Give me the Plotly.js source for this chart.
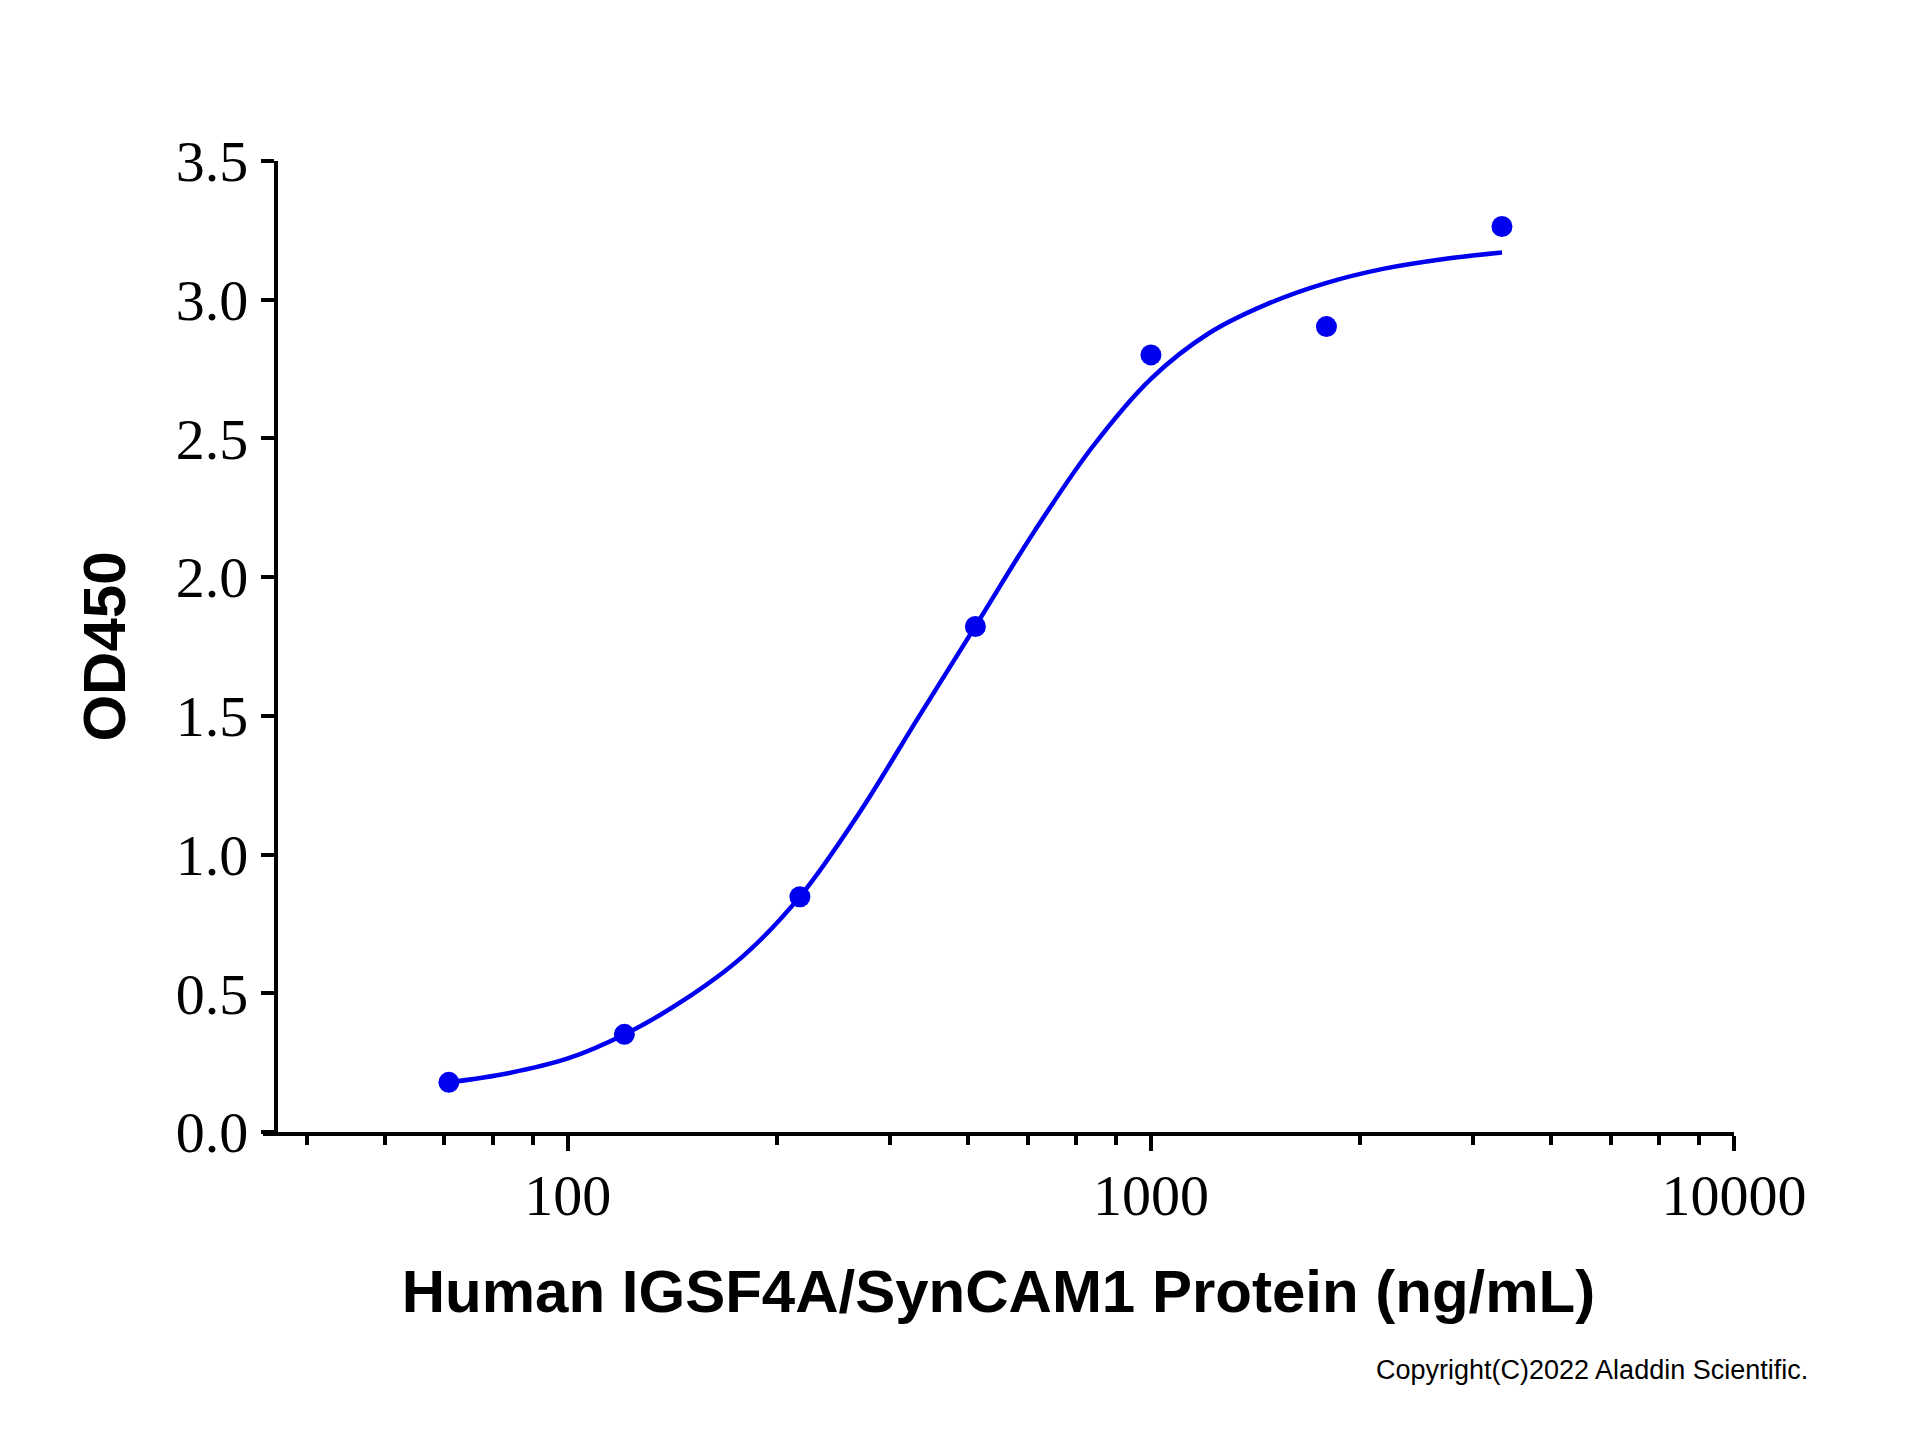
<!DOCTYPE html>
<html>
<head>
<meta charset="utf-8">
<script src="https://cdn.plot.ly/plotly-3.0.1.min.js"></script>
<style>
  html, body { margin: 0; padding: 0; background: #fff; }
  #chart { width: 1920px; height: 1440px; }
</style>
</head>
<body>
<div id="chart"></div>
<script>
// measured points (ng/mL vs OD450)
var concentracion = [62.5, 125, 250, 500, 1000, 2000, 4000];
var od450 = [0.179, 0.352, 0.848, 1.822, 2.801, 2.903, 3.264];

// fitted curve
var curvaX = [62.5, 79, 100, 126, 158, 200, 251, 316, 398, 501, 631, 794, 1000, 1259, 1585, 1995, 2512, 3162, 4000];
var curvaY = [0.179, 0.212, 0.265, 0.355, 0.475, 0.635, 0.853, 1.15, 1.49, 1.826, 2.165, 2.47, 2.715, 2.88, 2.985, 3.06, 3.112, 3.146, 3.170];

// axis ticks
var xTicks = [100, 1000, 10000];
var xTickText = ['100', '1000', '10000'];
var xMinorTicks = [35.71, 48.57, 61.43, 74.29, 87.14,
                   228.6, 357.1, 485.7, 614.3, 742.9, 871.4,
                   2286, 3571, 4857, 6143, 7429, 8714];
var yTicks = [0, 0.5, 1, 1.5, 2, 2.5, 3, 3.5];
var yTickText = ['0.0', '0.5', '1.0', '1.5', '2.0', '2.5', '3.0', '3.5'];

var azul = '#0000f0';

var traceCurva = {
    type: 'scatter',
    mode: 'lines',
    x: curvaX,
    y: curvaY,
    line: {color: azul, width: 4.5, shape: 'spline', smoothing: 1},
    hoverinfo: 'skip'
};

var tracePuntos = {
    type: 'scatter',
    mode: 'markers',
    x: concentracion,
    y: od450,
    marker: {color: azul, size: 21}
};

var layout = {
    width: 1920,
    height: 1440,
    paper_bgcolor: '#fff',
    plot_bgcolor: '#fff',
    showlegend: false,
    margin: {l: 263, r: 186, t: 161, b: 308},
    xaxis: {
        type: 'log',
        range: [Math.log10(30), 4],
        showgrid: false,
        zeroline: false,
        showline: true,
        linecolor: '#000',
        linewidth: 4,
        ticks: 'outside',
        ticklen: 15,
        tickwidth: 4,
        tickcolor: '#000',
        tickmode: 'array',
        tickvals: xTicks,
        ticktext: xTickText,
        ticklabelstandoff: -6,
        minor: {
            tickmode: 'array',
            tickvals: xMinorTicks,
            ticks: 'outside',
            ticklen: 9,
            tickwidth: 4,
            tickcolor: '#000',
            showgrid: false
        },
        tickfont: {family: 'Liberation Serif', size: 58, color: '#000'},
        title: {
            text: 'Human IGSF4A/SynCAM1 Protein (ng/mL)',
            font: {family: 'Liberation Sans', size: 60, color: '#000', weight: 'bold'},
            standoff: 44
        },
        automargin: false
    },
    yaxis: {
        range: [0, 3.5],
        anchor: 'free',
        position: 0.0088,
        showgrid: false,
        zeroline: false,
        showline: true,
        linecolor: '#000',
        linewidth: 4,
        ticks: 'outside',
        ticklen: 13,
        tickwidth: 4,
        tickcolor: '#000',
        tickmode: 'array',
        tickvals: yTicks,
        ticktext: yTickText,
        ticklabelstandoff: 1,
        tickfont: {family: 'Liberation Serif', size: 58, color: '#000'},
        title: {
            text: 'OD450',
            font: {family: 'Liberation Sans', size: 60, color: '#000', weight: 'bold'},
            standoff: 30
        },
        automargin: false
    },
    annotations: [{
        xref: 'paper',
        yref: 'paper',
        x: 1.0517,
        y: -0.245,
        xanchor: 'right',
        yanchor: 'middle',
        showarrow: false,
        text: 'Copyright(C)2022 Aladdin Scientific.',
        font: {family: 'Liberation Sans', size: 27, color: '#000'}
    }]
};

var config = {staticPlot: true, displayModeBar: false};

Plotly.newPlot('chart', [traceCurva, tracePuntos], layout, config);
</script>
</body>
</html>
